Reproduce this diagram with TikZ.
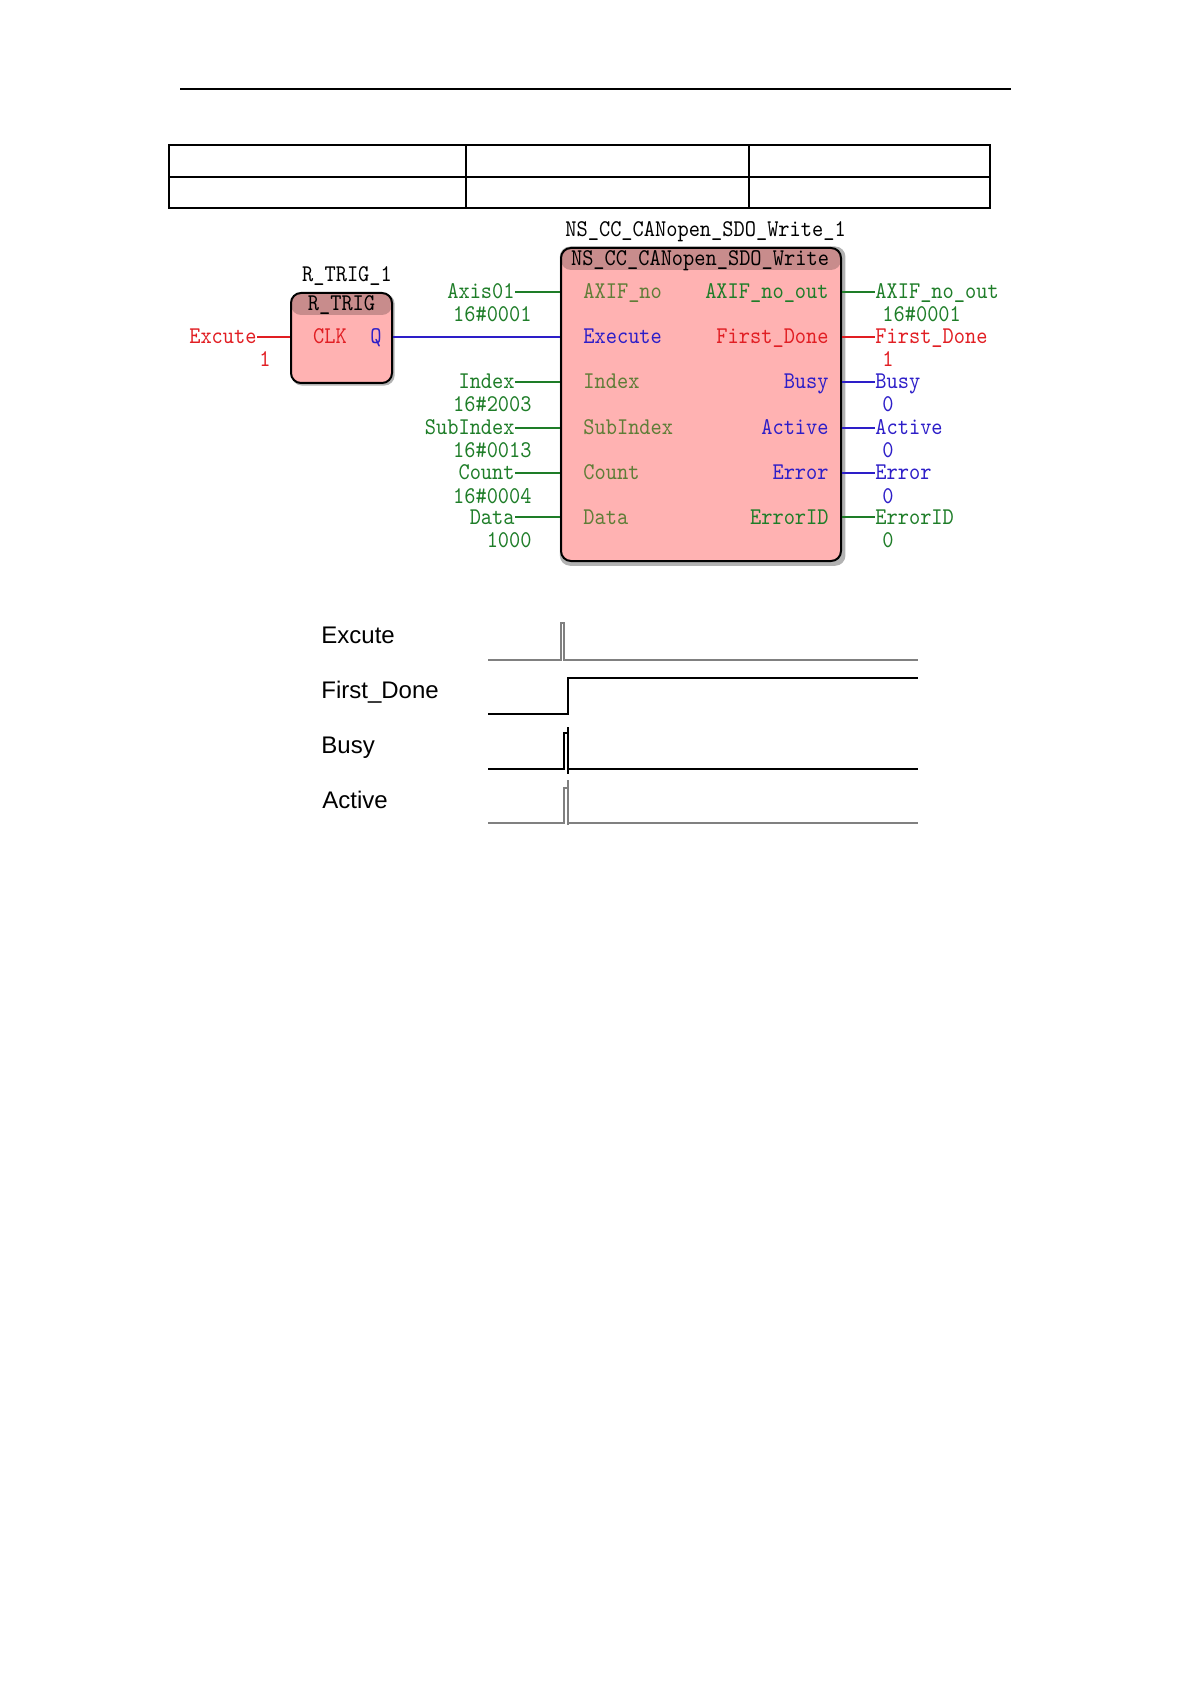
\documentclass[tikz,border=0pt]{standalone}
\usepackage{fontspec}
\setmainfont{Liberation Sans}
\newfontfamily\plcfont[FakeStretch=0.89]{lmmono10-regular.otf}
\usetikzlibrary{positioning,shadows}
\definecolor{xanhla}{RGB}{30,125,40}
\definecolor{xanhnhat}{RGB}{95,125,55}
\definecolor{maudo}{RGB}{225,30,35}
\definecolor{xanhduong}{RGB}{45,30,200}
\definecolor{hong}{RGB}{255,178,178}
\definecolor{honglam}{RGB}{200,140,140}
\definecolor{xam}{RGB}{128,128,128}
\begin{document}
\begin{tikzpicture}[x=0.5pt,y=-0.5pt,
	chu/.style={font=\plcfont\fontsize{12}{12}\selectfont, inner sep=0pt, text height=8pt, text depth=1pt},
	khoi/.style={draw, line width=1pt, rounded corners=5pt, fill=hong, inner sep=0pt,
		general shadow={fill=gray!60, shadow scale=1.02, shadow xshift=0.8pt, shadow yshift=-0.8pt},
		path picture={\fill[honglam] (path picture bounding box.north west) rectangle ([yshift=-11pt]path picture bounding box.north east);}},
	day/.style={line width=0.7pt},
	song/.style={line width=0.8pt},
	nhan/.style={font=\fontsize{12}{14}\selectfont, inner sep=0pt, text height=8.6pt, text depth=0pt, anchor=west}]
	\useasboundingbox (0,0) rectangle (1191,1684);
	% kẻ đầu trang và bảng trống
	\draw[line width=0.7pt] (180,89) -- (1011,89);
	\draw[line width=1pt] (169,145) rectangle (990,208);
	\draw[line width=1pt] (169,177) -- (990,177);
	\foreach \x in {466,749} \draw[line width=0.8pt] (\x,145) -- (\x,208);
	% khối R_TRIG
	\node[khoi, minimum width=50.5pt, minimum height=45pt] (rtrig) at (341.5,338) {};
	\node[chu] (rtrigten) at (341.5,304) {R\_TRIG};
	\node[chu] (rtrig1) at (347,275) {R\_TRIG\_1};
	\node[chu, text=maudo] (clk) at (330,337) {CLK};
	\node[chu, text=xanhduong] (q) at (376,337) {Q};
	\node[chu, anchor=east, text=maudo] (excute) at (257,337) {Excute};
	\node[chu, anchor=east, text=maudo] (gtexcute) at (271,360) {1};
	\draw[day, maudo] (excute.east) -- (excute.east -| rtrig.west);
	% khối NS_CC_CANopen_SDO_Write
	\node[khoi, minimum width=140pt, minimum height=156.5pt] (sdo) at (701,404.5) {};
	\node[chu] (sdoten) at (700,259) {NS\_CC\_CANopen\_SDO\_Write};
	\node[chu, anchor=west] (sdo1) at (565,230) {NS\_CC\_CANopen\_SDO\_Write\_1};
	\node[chu, anchor=west, text=xanhduong] (pexe) at (583,337) {Execute};
	\draw[day, xanhduong] (q -| rtrig.east) -- (q -| sdo.west);
	% chân vào
	\foreach \y/\ten/\nhanvao/\gt [count=\i] in {292/AXIF\_no/Axis01/16\#0001, 382/Index/Index/16\#2003, 428/SubIndex/SubIndex/16\#0013, 473/Count/Count/16\#0004, 517/Data/Data/1000}{
		\node[chu, anchor=west, text=xanhnhat] (vao\i) at (583,\y) {\ten};
		\node[chu, anchor=east, text=xanhla] (bien\i) at (515,\y) {\nhanvao};
		\node[chu, anchor=east, text=xanhla] (gtvao\i) at (532,\y+23) {\gt};
		\draw[day, xanhla] (bien\i.east) -- (bien\i.east -| sdo.west);
	}
	% chân ra
	\foreach \y/\ten/\mau/\gt [count=\i] in {292/AXIF\_no\_out/xanhla/16\#0001, 337/First\_Done/maudo/1, 382/Busy/xanhduong/0, 428/Active/xanhduong/0, 473/Error/xanhduong/0, 517/ErrorID/xanhla/0}{
		\node[chu, anchor=east, text=\mau] (ra\i) at (829,\y) {\ten};
		\node[chu, anchor=west, text=\mau] (bienra\i) at (875,\y) {\ten};
		\node[chu, anchor=west, text=\mau] (gtra\i) at (882,\y+23) {\gt};
		\draw[day, \mau] (bienra\i.west -| sdo.east) -- (bienra\i.west);
	}
	% giản đồ thời gian
	\node[nhan] (tex) at (321,635) {Excute};
	\node[nhan] (tfd) at (321,690) {First\_Done};
	\node[nhan] (tbusy) at (321,745) {Busy};
	\node[nhan] (tact) at (322,800) {Active};
	\draw[song, xam, line width=1.2pt] (488,660) -| (561,623) -| (564,660) -- (918,660);
	\draw[song] (488,714) -| (568,678) -- (918,678);
	\draw[song] (488,769) -| (564,733) -- (567,733) (568,727) -- (568,774) (568,769) -- (918,769);
	\draw[song, xam, line width=1.2pt] (488,823) -| (564,788) -- (567,788) (568,780) -- (568,825) (568,823) -- (918,823);
\end{tikzpicture}
\end{document}
